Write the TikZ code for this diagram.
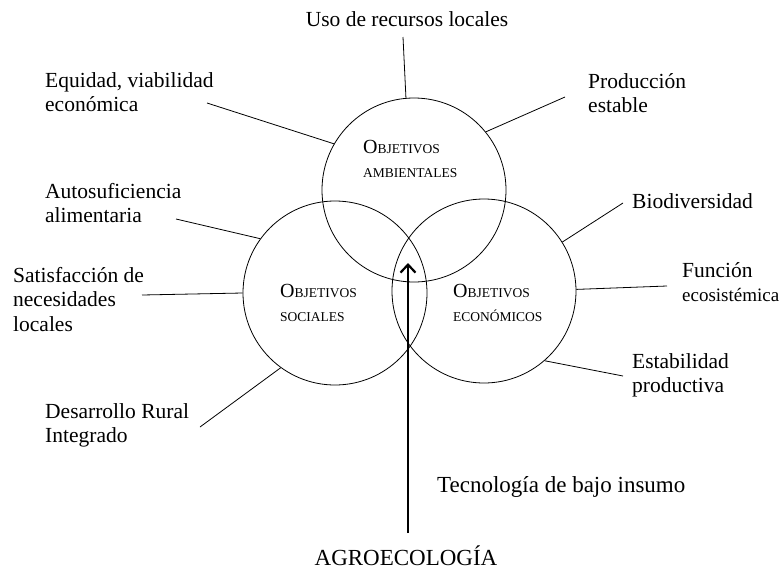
\documentclass[tikz,border=0pt]{standalone}
\usepackage{fontspec}
\setmainfont{Liberation Serif}
\usetikzlibrary{arrows.meta}
\newcommand\lblf{\rmfamily\fontsize{21.5}{24.5}\selectfont}
\newcommand\bigO[1]{{\fontsize{20}{20}\selectfont #1}}
\newcommand\smc[1]{{\fontsize{13.5}{13.5}\selectfont #1}}
\newcommand\stacklines[1]{\begin{tabular}[t]{@{}l@{}}#1\end{tabular}}
\begin{document}
\begin{tikzpicture}[x=1pt,y=-1pt,
  goal/.style={circle, draw, line width=0.8pt, minimum size=184pt, inner sep=0pt},
  lbl/.style={anchor=base west, inner sep=0pt, font=\lblf},
  ctr/.style={anchor=base west, inner sep=0pt, font=\fontsize{13.5}{24}\selectfont},
  conn/.style={line width=0.8pt},
  big/.style={inner sep=0pt, font=\fontsize{23}{23}\selectfont},
  arr/.style={line width=2.2pt, -{Straight Barb[length=8pt,width=15pt]}}]
\useasboundingbox (0,0) rectangle (780,571);

% circles
\node[goal] (amb) at (414,190) {};
\node[goal] (soc) at (335,293) {};
\node[goal] (eco) at (484,291) {};

% circle labels
\node[ctr] (tamb) at (363,153) {\stacklines{\bigO{O}\smc{BJETIVOS}\\\smc{AMBIENTALES}}};
\node[ctr] (tsoc) at (280,297) {\stacklines{\bigO{O}\smc{BJETIVOS}\\\smc{SOCIALES}}};
\node[ctr] (teco) at (453,297) {\stacklines{\bigO{O}\smc{BJETIVOS}\\\smc{ECONÓMICOS}}};

% outer labels
\node[lbl, anchor=base] (uso) at (407,26) {Uso de recursos locales};
\node[lbl] (equ) at (45,87) {\stacklines{Equidad, viabilidad\\económica}};
\node[lbl] (pro) at (588,88) {\stacklines{Producción\\estable}};
\node[lbl] (aut) at (45,198) {\stacklines{Autosuficiencia\\alimentaria}};
\node[lbl] (sat) at (13,282) {\stacklines{Satisfacción de\\necesidades\\locales}};
\node[lbl] (des) at (45,418) {\stacklines{Desarrollo Rural\\Integrado}};
\node[lbl] (bio) at (632,208) {Biodiversidad};
\node[lbl] (fun) at (682,277) {\stacklines{Función\\{\fontsize{19}{24.5}\selectfont ecosistémica}}};
\node[lbl] (est) at (632,368) {\stacklines{Estabilidad\\productiva}};
\node[big, anchor=base west] (tec) at (437,492) {Tecnología de bajo insumo};
\node[big, anchor=base] (agro) at (406,565) {AGROECOLOGÍA};

% free ends of connectors
\coordinate (uso-e) at (403,37);
\coordinate (equ-e) at (207,103);
\coordinate (pro-e) at (565,97);
\coordinate (aut-e) at (176,219);
\coordinate (sat-e) at (142,295);
\coordinate (des-e) at (200,427);
\coordinate (bio-e) at (623,203);
\coordinate (fun-e) at (667,286);
\coordinate (est-e) at (623,376);

\draw[conn] (uso-e) -- (amb.95.6);
\draw[conn] (equ-e) -- (amb.150.5);
\draw[conn] (pro-e) -- (amb.39.6);
\draw[conn] (aut-e) -- (soc.144.2);
\draw[conn] (sat-e) -- (soc.180);
\draw[conn] (des-e) -- (soc.234.5);
\draw[conn] (bio-e) -- (eco.32.8);
\draw[conn] (fun-e) -- (eco.1);
\draw[conn] (est-e) -- (eco.-49);

% main arrow
\coordinate (arr-base) at (408,533);
\coordinate (arr-tip) at (408,263);
\draw[arr] (arr-base) -- (arr-tip);
\end{tikzpicture}
\end{document}
